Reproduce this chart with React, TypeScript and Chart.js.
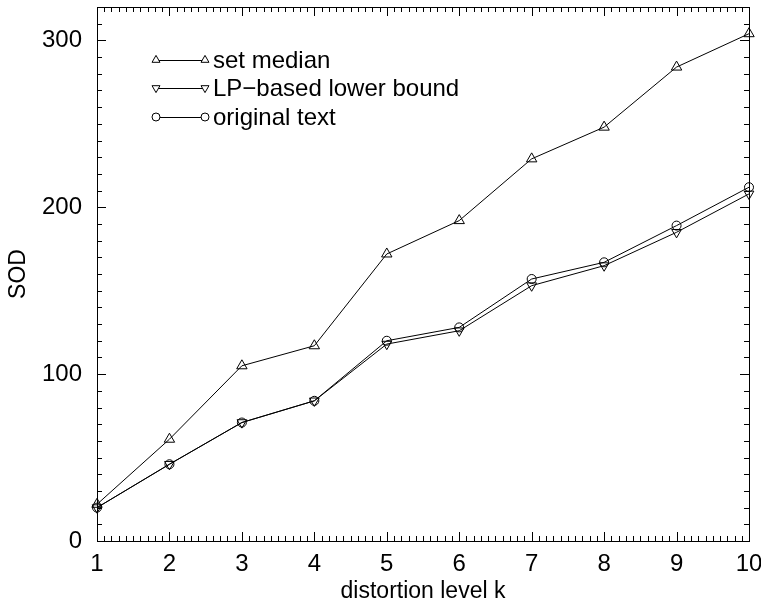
import React, { useEffect, useRef } from "react";
import { Chart, registerables } from "chart.js";

Chart.register(...registerables);

const kLevels = [1, 2, 3, 4, 5, 6, 7, 8, 9, 10];
const setMedian = [22, 61, 105, 117, 172, 192, 229, 248, 284, 304];
const lpBound = [20, 46, 71, 84, 118, 126, 153, 165, 185, 208];
const originalText = [20, 46, 71, 84, 120, 128, 157, 167, 189, 212];
const seriesNames = ["set median", "LP\u2212based lower bound", "original text"];
const yTickValues = [0, 100, 200, 300];
const xTickValues = [1, 2, 3, 4, 5, 6, 7, 8, 9, 10];
const xMinorStep = 0.1;
const yMinorStep = 10;
const yMax = 320;

const FONT = "'Liberation Sans', Arial, Helvetica, sans-serif";

function drawMarker(ctx: CanvasRenderingContext2D, style: string, rot: number, x: number, y: number, r: number) {
  ctx.beginPath();
  if (style === "circle") {
    ctx.arc(x, y, r, 0, Math.PI * 2);
  } else {
    let rad = (rot * Math.PI) / 180;
    ctx.moveTo(x + Math.sin(rad) * r, y - Math.cos(rad) * r);
    rad += (2 * Math.PI) / 3;
    ctx.lineTo(x + Math.sin(rad) * r, y - Math.cos(rad) * r);
    rad += (2 * Math.PI) / 3;
    ctx.lineTo(x + Math.sin(rad) * r, y - Math.cos(rad) * r);
    ctx.closePath();
  }
  ctx.fillStyle = "#fff";
  ctx.fill();
  ctx.stroke();
}

const frameTicksPlugin = {
  id: "frameTicks",
  afterDatasetsDraw(chart: any) {
    const ctx: CanvasRenderingContext2D = chart.ctx;
    const xs = chart.scales.x;
    const ys = chart.scales.y;
    const { left, right, top, bottom } = chart.chartArea;
    ctx.save();
    ctx.strokeStyle = "#000";
    ctx.lineWidth = 1;
    ctx.strokeRect(Math.round(left) + 0.5, Math.round(top) + 0.5, Math.round(right - left), Math.round(bottom - top));
    const major = 9;
    const minor = 5;
    ctx.beginPath();
    const nx = Math.round((xTickValues[xTickValues.length - 1] - xTickValues[0]) / xMinorStep);
    for (let i = 0; i <= nx; i++) {
      const v = xTickValues[0] + i * xMinorStep;
      const len = i % 10 === 0 ? major : minor;
      const px = Math.round(xs.getPixelForValue(v)) + 0.5;
      ctx.moveTo(px, bottom);
      ctx.lineTo(px, bottom - len);
      ctx.moveTo(px, top);
      ctx.lineTo(px, top + len);
    }
    const ny = Math.round(yMax / yMinorStep);
    for (let i = 0; i <= ny; i++) {
      const v = i * yMinorStep;
      const len = yTickValues.includes(v) ? major : minor;
      const py = Math.round(ys.getPixelForValue(v)) + 0.5;
      ctx.moveTo(left, py);
      ctx.lineTo(left + len, py);
      ctx.moveTo(right, py);
      ctx.lineTo(right - len, py);
    }
    ctx.stroke();
    ctx.restore();
  },
};

const legendPlugin = {
  id: "customLegend",
  afterDatasetsDraw(chart: any) {
    const ctx: CanvasRenderingContext2D = chart.ctx;
    const x0 = 156;
    const x1 = 205;
    const tx = 213;
    const rows = [60, 88, 117];
    ctx.save();
    chart.data.datasets.forEach((ds: any, i: number) => {
      const y = rows[i];
      ctx.strokeStyle = "#000";
      ctx.lineWidth = 1;
      ctx.beginPath();
      ctx.moveTo(x0, y + 0.5);
      ctx.lineTo(x1, y + 0.5);
      ctx.stroke();
      const r = ds.pointStyle === "circle" ? 4 : 4.6;
      drawMarker(ctx, ds.pointStyle, ds.pointRotation || 0, x0, y, r);
      drawMarker(ctx, ds.pointStyle, ds.pointRotation || 0, x1, y, r);
      ctx.fillStyle = "#000";
      ctx.font = `24px ${FONT}`;
      ctx.textBaseline = "middle";
      ctx.textAlign = "left";
      ctx.fillText(ds.label, tx, y + 1);
    });
    ctx.restore();
  },
};

export default function App() {
  const ref = useRef<HTMLCanvasElement | null>(null);
  useEffect(() => {
    if (!ref.current) return;
    const mk = (vals: number[]) => kLevels.map((k, i) => ({ x: k, y: vals[i] }));
    const common = {
      borderColor: "#000",
      borderWidth: 1,
      pointBorderColor: "#000",
      pointBackgroundColor: "rgba(0,0,0,0)",
      pointBorderWidth: 1,
      fill: false,
      tension: 0,
      clip: false as any,
    };
    const noPad = (s: any) => {
      s.paddingLeft = 0;
      s.paddingRight = 0;
      s.paddingTop = 0;
      s.paddingBottom = 0;
    };
    const chart = new Chart(ref.current, {
      type: "line",
      data: {
        datasets: [
          { ...common, label: seriesNames[0], data: mk(setMedian), pointStyle: "triangle", pointRadius: 6 },
          { ...common, label: seriesNames[1], data: mk(lpBound), pointStyle: "triangle", pointRotation: 180, pointRadius: 5.6 },
          { ...common, label: seriesNames[2], data: mk(originalText), pointStyle: "circle", pointRadius: 4.5 },
        ] as any,
      },
      options: {
        animation: false,
        responsive: false,
        maintainAspectRatio: false,
        layout: { padding: { left: 0, top: 5, right: 12, bottom: 0 } },
        plugins: { legend: { display: false }, tooltip: { enabled: false } },
        elements: { point: { hoverRadius: 0 } },
        scales: {
          x: {
            type: "linear",
            min: xTickValues[0],
            max: xTickValues[xTickValues.length - 1],
            afterBuildTicks: (s: any) => {
              s.ticks = xTickValues.map((v) => ({ value: v }));
            },
            afterFit: (s: any) => {
              s.height = 64;
              noPad(s);
            },
            grid: { display: false, drawTicks: false },
            border: { display: false },
            ticks: { color: "#000", font: { family: FONT, size: 24 }, padding: 9, maxRotation: 0, autoSkip: false },
            title: { display: true, text: "distortion level k", color: "#000", font: { family: FONT, size: 23 }, padding: { top: 0, bottom: 0 } },
          },
          y: {
            type: "linear",
            min: 0,
            max: yMax,
            afterBuildTicks: (s: any) => {
              s.ticks = yTickValues.map((v) => ({ value: v }));
            },
            afterFit: (s: any) => {
              s.width = 97;
              noPad(s);
            },
            grid: { display: false, drawTicks: false },
            border: { display: false },
            ticks: { color: "#000", font: { family: FONT, size: 24 }, padding: 15 },
            title: { display: true, text: "SOD", color: "#000", font: { family: FONT, size: 23 }, padding: { top: 5, bottom: 0 } },
          },
        },
      },
      plugins: [frameTicksPlugin, legendPlugin],
    });
    return () => chart.destroy();
  }, []);
  return (
    <div style={{ position: "fixed", left: 0, top: 0, width: 761, height: 605, background: "#fff" }}>
      <canvas ref={ref} width={761} height={605} style={{ width: 761, height: 605, display: "block" }} />
    </div>
  );
}
